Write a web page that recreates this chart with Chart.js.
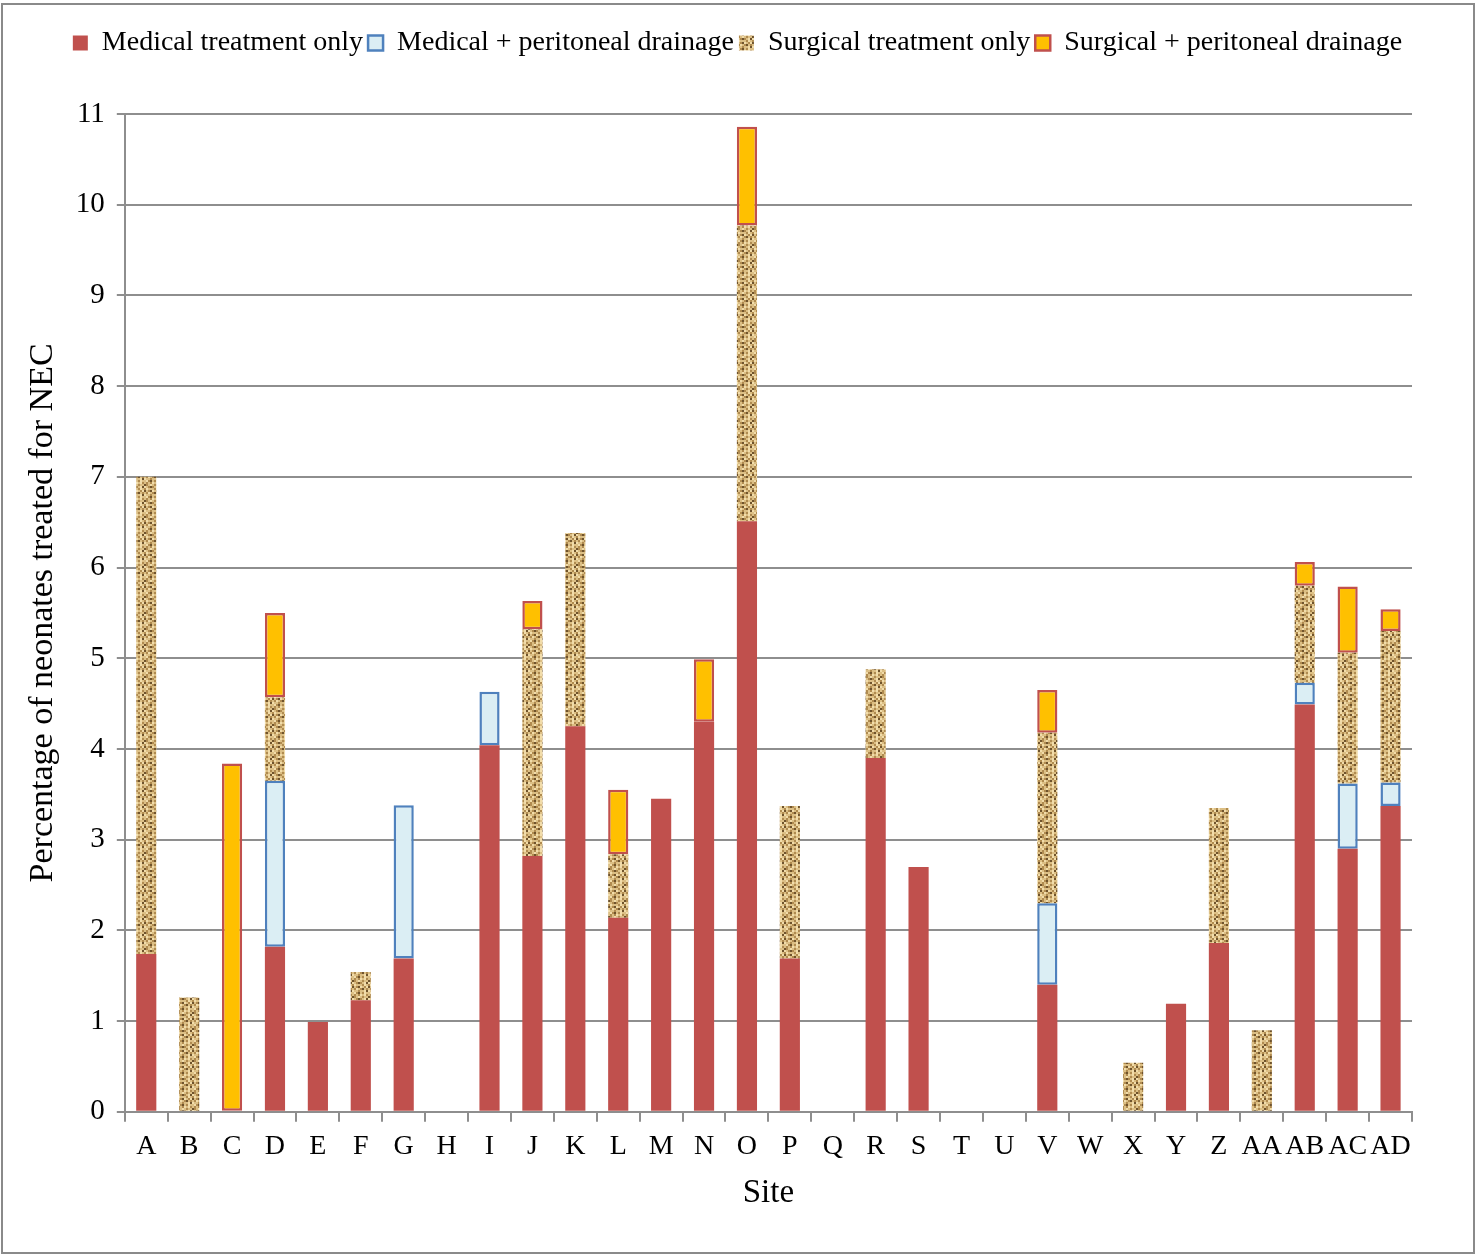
<!DOCTYPE html>
<html>
<head>
<meta charset="utf-8">
<script src="https://cdn.jsdelivr.net/npm/chart.js@4.4.1/dist/chart.umd.min.js"></script>
<style>
  html, body { margin: 0; padding: 0; background: #fff; }
  #wrap { width: 1476px; height: 1255px; }
</style>
</head>
<body>
<div id="wrap"><canvas id="nec" width="1476" height="1255"></canvas></div>
<script>
// data (percent of neonates)
const sites = ["A", "B", "C", "D", "E", "F", "G", "H", "I", "J", "K", "L", "M", "N", "O",
               "P", "Q", "R", "S", "T", "U", "V", "W", "X", "Y", "Z", "AA", "AB", "AC", "AD"];
const medicalOnly   = [1.74, 0, 0, 1.82, 0.99, 1.23, 1.69, 0, 4.04, 2.82, 4.25, 2.14, 3.45, 4.30, 6.51,
                       1.69, 0, 3.90, 2.70, 0, 0, 1.40, 0, 0, 1.19, 1.86, 0, 4.49, 2.90, 3.37];
const medicalDrain  = [0, 0, 0, 1.83, 0, 0, 1.69, 0, 0.59, 0, 0, 0, 0, 0, 0,
                       0, 0, 0, 0, 0, 0, 0.90, 0, 0, 0, 0, 0, 0.24, 0.72, 0.26];
const surgicalOnly  = [5.26, 1.26, 0, 0.92, 0, 0.31, 0, 0, 0, 2.50, 2.13, 0.70, 0, 0, 3.26,
                       1.68, 0, 0.98, 0, 0, 0, 1.88, 0, 0.54, 0, 1.49, 0.90, 1.07, 1.44, 1.67];
const surgicalDrain = [0, 0, 3.84, 0.93, 0, 0, 0, 0, 0, 0.31, 0, 0.71, 0, 0.69, 1.09,
                       0, 0, 0, 0, 0, 0, 0.47, 0, 0, 0, 0, 0, 0.26, 0.73, 0.24];

const FONT = "'Liberation Serif', serif";
const GRID = "#8e8e8e";

// woven tan texture for "surgical treatment only" (2px cells)
function makeTexture() {
    const rows = [
        "lwbdlbwl",
        "lblbwlwb",
        "dblwlbll",
        "wlbdblwd",
        "bwlllbwl",
        "dlbdwlbw",
        "lbwlbdlb",
        "wllbllwd"
    ];
    const cols = { w: "#f1dcaa", l: "#dcbf85", b: "#b08b50", d: "#6f532c" };
    const c = document.createElement("canvas");
    c.width = 16; c.height = 16;
    const g = c.getContext("2d");
    rows.forEach((r, y) => {
        for (let x = 0; x < r.length; x++) {
            g.fillStyle = cols[r[x]];
            g.fillRect(x * 2, y * 2, 2, 2);
        }
    });
    return document.getElementById("nec").getContext("2d").createPattern(c, "repeat");
}
const texture = makeTexture();

const noZero = arr => arr.map(v => (v === 0 ? null : v));

// outer frame of the figure
const frame = {
    id: "frame",
    afterDraw(chart) {
        const ctx = chart.ctx;
        ctx.save();
        ctx.strokeStyle = "#8a8a8a";
        ctx.lineWidth = 2;
        ctx.strokeRect(2, 4, 1472, 1249);
        ctx.restore();
    }
};

// extra room under the legend, and centre it on the page
const legendGap = {
    id: "legendGap",
    beforeInit(chart) {
        const fit = chart.legend.fit;
        chart.legend.fit = function () {
            fit.bind(chart.legend)();
            this.height += 47;
        };
    },
    afterLayout(chart) {
        chart.legend.left += 20;
        chart.legend.right += 20;
    }
};

new Chart(document.getElementById("nec"), {
    type: "bar",
    data: {
        labels: sites,
        datasets: [
            {
                label: "Medical treatment only",
                data: noZero(medicalOnly),
                backgroundColor: "#c0504d",
                borderWidth: 0
            },
            {
                label: "Medical + peritoneal drainage",
                data: noZero(medicalDrain),
                backgroundColor: "#dbeef4",
                borderColor: "#4f81bd",
                borderWidth: 2.5,
                borderSkipped: false
            },
            {
                label: "Surgical treatment only",
                data: noZero(surgicalOnly),
                backgroundColor: texture,
                borderWidth: 0
            },
            {
                label: "Surgical + peritoneal drainage",
                data: noZero(surgicalDrain),
                backgroundColor: "#ffc000",
                borderColor: "#c0504d",
                borderWidth: 2.5,
                borderSkipped: false
            }
        ]
    },
    options: {
        responsive: false,
        animation: false,
        barPercentage: 0.47,
        categoryPercentage: 1,
        layout: {
            padding: { left: 23, right: 64, top: 24, bottom: 38 }
        },
        plugins: {
            legend: {
                display: true,
                position: "top",
                labels: {
                    color: "#000",
                    font: { family: FONT, size: 28 },
                    boxWidth: 15,
                    boxHeight: 15,
                    padding: 5
                }
            },
            tooltip: { enabled: false }
        },
        scales: {
            x: {
                stacked: true,
                grid: {
                    drawOnChartArea: false,
                    drawTicks: true,
                    tickLength: 10,
                    color: GRID,
                    lineWidth: 2
                },
                border: { color: GRID, width: 2 },
                ticks: {
                    color: "#000",
                    font: { family: FONT, size: 28 },
                    maxRotation: 0,
                    autoSkip: false,
                    padding: 8
                },
                title: {
                    display: true,
                    text: "Site",
                    color: "#000",
                    font: { family: FONT, size: 33 },
                    padding: { top: 2 }
                }
            },
            y: {
                stacked: true,
                min: 0,
                max: 11,
                grid: {
                    color: GRID,
                    lineWidth: 2,
                    tickLength: 8
                },
                border: { color: GRID, width: 2 },
                ticks: {
                    stepSize: 1,
                    color: "#000",
                    font: { family: FONT, size: 29 },
                    padding: 12
                },
                title: {
                    display: true,
                    text: "Percentage of neonates treated for NEC",
                    color: "#000",
                    font: { family: FONT, size: 34 },
                    padding: { top: 0, bottom: 0 }
                }
            }
        }
    },
    plugins: [frame, legendGap]
});
</script>
</body>
</html>
